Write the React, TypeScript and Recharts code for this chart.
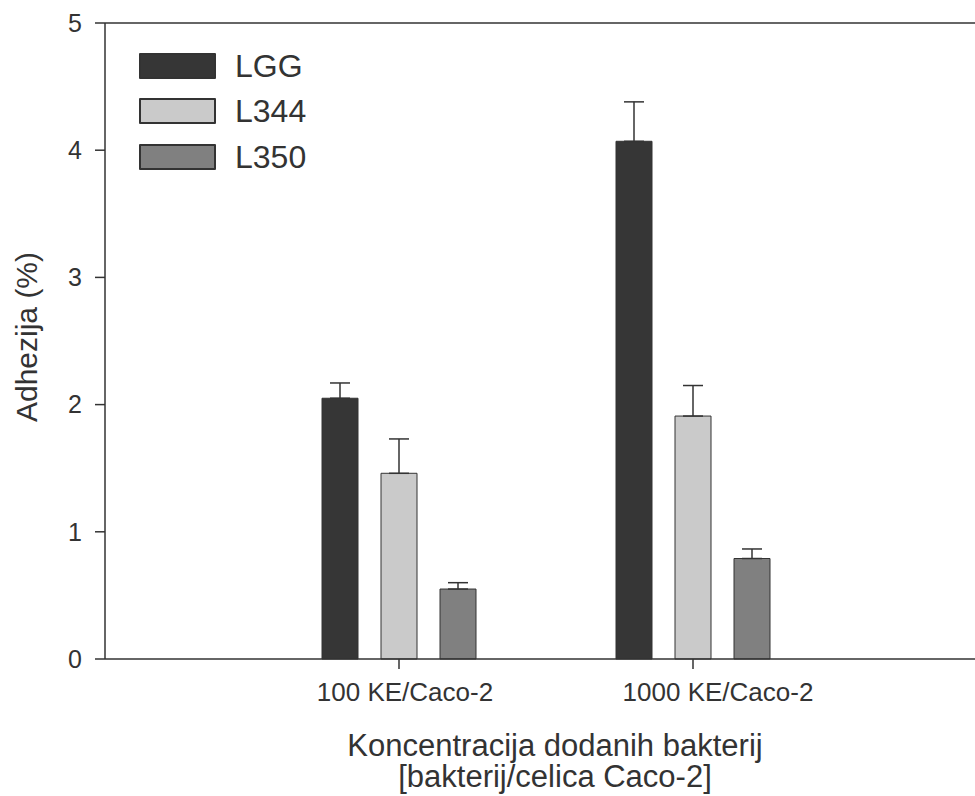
import React from "react";
import {
  BarChart,
  Bar,
  XAxis,
  YAxis,
  ErrorBar,
  Legend,
  ReferenceLine,
} from "recharts";

const concentrations = ["100 KE/Caco-2", "1000 KE/Caco-2"];
const seriesOrder = ["LGG", "L344", "L350"];
const lgg = [2.05, 4.07];
const lggErr = [0.12, 0.31];
const l344 = [1.46, 1.91];
const l344Err = [0.27, 0.24];
const l350 = [0.55, 0.79];
const l350Err = [0.05, 0.075];
const yTicks = [0, 1, 2, 3, 4, 5];

const data = concentrations.map((conc, i) => ({
  conc,
  lgg: lgg[i],
  lggErr: [0, lggErr[i]],
  l344: l344[i],
  l344Err: [0, l344Err[i]],
  l350: l350[i],
  l350Err: [0, l350Err[i]],
}));

const INK = "#333333";
const FONT = "'Liberation Sans', Arial, Helvetica, sans-serif";
// the category labels sit a little right of their ticks
const TICK_SHIFT = [6, 25];

function CategoryTick(props: any) {
  const { x, y, payload, index } = props;
  return (
    <text
      x={x + (TICK_SHIFT[index] ?? 0)}
      y={y}
      dy="0.71em"
      textAnchor="middle"
      fontSize={26}
      fontFamily={FONT}
      fill={INK}
    >
      {payload.value}
    </text>
  );
}

function XTitle(props: any) {
  const { viewBox } = props;
  const cx = viewBox.x + viewBox.width / 2 + 15;
  return (
    <text textAnchor="middle" fontSize={31} fontFamily={FONT} fill={INK}>
      <tspan x={cx} y={756}>
        Koncentracija dodanih bakterij
      </tspan>
      <tspan x={cx} y={787}>
        [bakterij/celica Caco-2]
      </tspan>
    </text>
  );
}

function YTitle(props: any) {
  const { viewBox } = props;
  const x = 37;
  const y = viewBox.y + viewBox.height / 2 - 4;
  return (
    <text
      x={x}
      y={y}
      transform={`rotate(-90, ${x}, ${y})`}
      textAnchor="middle"
      fontSize={30}
      fontFamily={FONT}
      fill={INK}
    >
      Adhezija (%)
    </text>
  );
}

function LegendBox(props: any) {
  const items = [...(props.payload || [])].sort(
    (a: any, b: any) => seriesOrder.indexOf(a.value) - seriesOrder.indexOf(b.value)
  );
  return (
    <div style={{ fontFamily: FONT }}>
      {items.map((entry: any) => (
        <div
          key={entry.value}
          style={{ display: "flex", alignItems: "center", height: 45.5 }}
        >
          <div
            style={{
              boxSizing: "border-box",
              width: 77,
              height: 26,
              background: entry.color,
              border: `2px solid ${INK}`,
              borderRadius: 1,
            }}
          />
          <span
            style={{
              marginLeft: 19,
              fontSize: 32,
              color: INK,
              lineHeight: 1,
            }}
          >
            {entry.value}
          </span>
        </div>
      ))}
    </div>
  );
}

export default function App() {
  return (
    <div style={{ position: "absolute", left: 0, top: 0, background: "#fff" }}>
      <BarChart
        width={975}
        height={796}
        data={data}
        margin={{ top: 23, right: 0, bottom: 0, left: 0 }}
        barSize={36}
        barGap={23}
      >
        <XAxis
          dataKey="conc"
          height={137}
          padding={{ left: 147, right: 135 }}
          axisLine={{ stroke: INK, strokeWidth: 1.5 }}
          tickLine={{ stroke: INK, strokeWidth: 1.5 }}
          tickSize={10}
          tickMargin={14}
          tick={<CategoryTick />}
          label={<XTitle />}
        />
        <YAxis
          width={105}
          domain={[0, 5]}
          ticks={yTicks}
          interval={0}
          axisLine={{ stroke: INK, strokeWidth: 1.5 }}
          tickLine={{ stroke: INK, strokeWidth: 1.5 }}
          tickSize={10}
          tickMargin={13}
          tick={{ fontSize: 25, fontFamily: FONT, fill: INK }}
          label={<YTitle />}
        />
        <ReferenceLine y={5} stroke={INK} strokeWidth={1.5} />
        <Legend
          layout="vertical"
          align="center"
          verticalAlign="middle"
          wrapperStyle={{ left: 139, top: 43, width: "auto" }}
          content={<LegendBox />}
        />
        <Bar
          dataKey="lgg"
          name="LGG"
          fill="#363636"
          stroke={INK}
          strokeWidth={1}
          isAnimationActive={false}
        >
          <ErrorBar dataKey="lggErr" width={10} stroke={INK} strokeWidth={1.5} />
        </Bar>
        <Bar
          dataKey="l344"
          name="L344"
          fill="#cacaca"
          stroke={INK}
          strokeWidth={1}
          isAnimationActive={false}
        >
          <ErrorBar dataKey="l344Err" width={10} stroke={INK} strokeWidth={1.5} />
        </Bar>
        <Bar
          dataKey="l350"
          name="L350"
          fill="#808080"
          stroke={INK}
          strokeWidth={1}
          isAnimationActive={false}
        >
          <ErrorBar dataKey="l350Err" width={10} stroke={INK} strokeWidth={1.5} />
        </Bar>
      </BarChart>
    </div>
  );
}
